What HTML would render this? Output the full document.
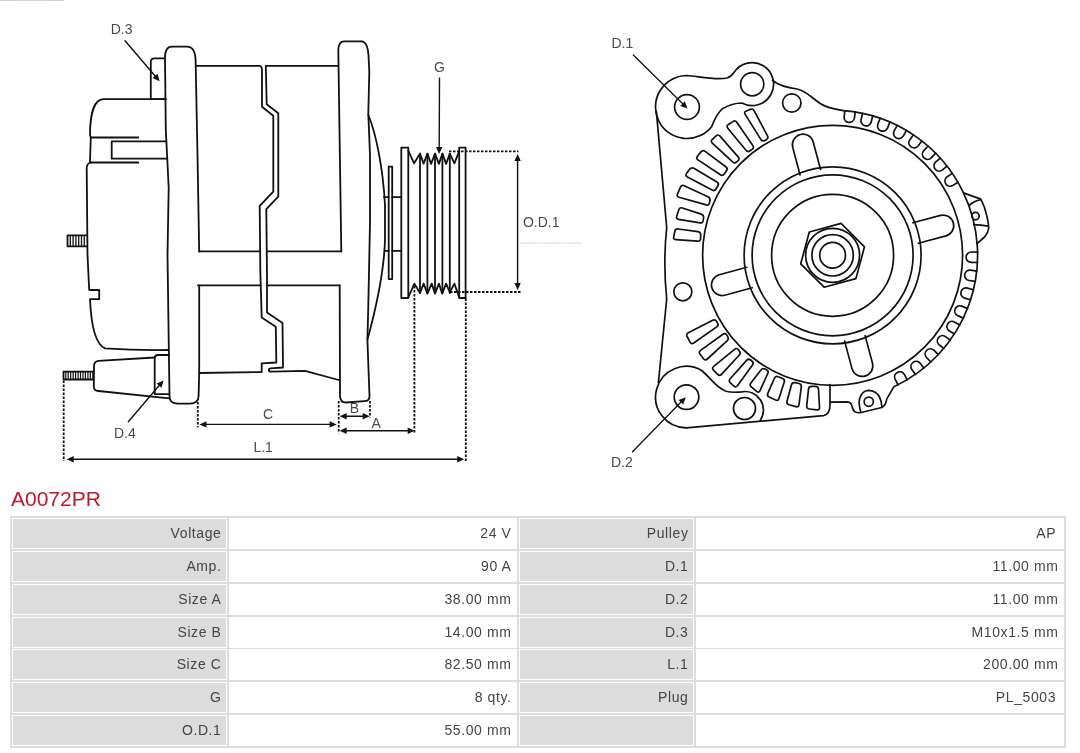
<!DOCTYPE html>
<html><head><meta charset="utf-8">
<style>
html,body{margin:0;padding:0;background:#fff;width:1080px;height:753px;overflow:hidden;position:relative;font-family:"Liberation Sans",sans-serif;}
#draw{position:absolute;left:0;top:0;will-change:transform;}
.tbl{will-change:transform;position:absolute;left:10px;top:516px;width:1056px;height:232px;background:#dddddd;}
.c{will-change:transform;position:absolute;box-sizing:border-box;border:1px solid #fff;height:31px;}
.l{background:#dcdcdc;}
.v{background:#fff;}
.t{position:absolute;right:4.5px;top:4px;font-size:14px;color:#444;line-height:20px;white-space:nowrap;letter-spacing:0.6px;}
.v .t{right:4.5px;}
.title{position:absolute;left:11px;top:487px;font-size:21px;color:#c0182a;will-change:transform;letter-spacing:0px;line-height:24px;white-space:nowrap;}
</style></head><body>
<svg id="draw" width="1080" height="480" viewBox="0 0 1080 480">
<g fill="none" stroke="#111" stroke-width="1.8" stroke-linejoin="round" stroke-linecap="round">
<line x1="125" y1="40.8" x2="157.5" y2="78.8" stroke-width="1.4"/>
<polygon points="159.6,81.2 152.6,78 157.5,73.8" fill="#111" stroke="none"/>
<path d="M199.2,285.3 L199.2,373 L198.6,396 Q198.3,403.6 190,403.6 L177.5,403.6 Q169.6,403.6 169.5,396 L169.2,375 L167.5,255 L168.7,187.5 L165.8,130 L165,58 Q164.8,46.6 172,46.6 L187,46.6 Q195,46.6 195.6,60 L197.5,155 L199.2,251.5"/>
<path d="M164.6,58.3 L154.3,58.3 Q150.8,58.3 150.8,62 L150.8,99.2 L165.6,99.2"/>
<path d="M165.6,99.2 L103.3,99.2 C95,99.5 90,112 90,135 L90.8,137.5 L90,161.7 Q90,162.5 90.8,162.5"/>
<line x1="90.8" y1="137.5" x2="138.3" y2="137.5"/>
<line x1="90.8" y1="162.5" x2="138.3" y2="162.5"/>
<path d="M166.2,141.3 L111.7,141.3 L111.7,158.7 L166.4,158.7"/>
<path d="M90.8,162.5 Q86.7,163.5 86.7,168 L87.5,255 L89.2,290 L99.2,290 L99.2,299.2 L90,299.2 C91,322 95,344 105,348.3 Q135,350.5 168.3,350"/>
<path d="M87,235.3 L67.5,235.3 L67.5,246.3 L87,246.3"/>
<line x1="70.3" y1="235.8" x2="70.3" y2="245.8" stroke-width="1.3"/>
<line x1="73.1" y1="235.8" x2="73.1" y2="245.8" stroke-width="1.3"/>
<line x1="75.9" y1="235.8" x2="75.9" y2="245.8" stroke-width="1.3"/>
<line x1="78.7" y1="235.8" x2="78.7" y2="245.8" stroke-width="1.3"/>
<line x1="81.5" y1="235.8" x2="81.5" y2="245.8" stroke-width="1.3"/>
<line x1="84.3" y1="235.8" x2="84.3" y2="245.8" stroke-width="1.3"/>
<path d="M154.7,357.5 L98.3,360.8 Q94,361.5 94,366 L93.8,386.5 Q94,390.8 98.5,391 L169.2,398.3"/>
<path d="M169.2,355 L157.8,355 Q154.7,355 154.7,358.5 L154.7,394.2 L169.2,394.2"/>
<path d="M93.8,371.7 L63.5,371.7 L63.5,379.5 L93.8,379.5"/>
<line x1="65.8" y1="372.2" x2="65.8" y2="379" stroke-width="1.2"/>
<line x1="68.2" y1="372.2" x2="68.2" y2="379" stroke-width="1.2"/>
<line x1="70.7" y1="372.2" x2="70.7" y2="379" stroke-width="1.2"/>
<line x1="73.2" y1="372.2" x2="73.2" y2="379" stroke-width="1.2"/>
<line x1="75.6" y1="372.2" x2="75.6" y2="379" stroke-width="1.2"/>
<line x1="78.1" y1="372.2" x2="78.1" y2="379" stroke-width="1.2"/>
<line x1="80.5" y1="372.2" x2="80.5" y2="379" stroke-width="1.2"/>
<line x1="83" y1="372.2" x2="83" y2="379" stroke-width="1.2"/>
<line x1="85.4" y1="372.2" x2="85.4" y2="379" stroke-width="1.2"/>
<line x1="87.9" y1="372.2" x2="87.9" y2="379" stroke-width="1.2"/>
<line x1="90.3" y1="372.2" x2="90.3" y2="379" stroke-width="1.2"/>
<line x1="92.8" y1="372.2" x2="92.8" y2="379" stroke-width="1.2"/>
<path d="M195.8,65.8 L259.5,65.8 Q262,66 262,70 L262,106.7 L273.3,115.8 L273.3,191.7 L259.7,205.8 L260.3,270 L261.7,317.5 L275.8,326.7 L276.3,362.5 L261.7,363.3 L261.7,372 L199.2,373"/>
<path d="M265.8,65.8 L266.7,104.2 L278.3,113.3 L278.3,196.7 L266.3,209.2 L267,275 L267,312.5 L282.5,323 L283,367.5 L270.5,368.3 Q268.6,368.5 268.8,370.5 Q269,371.8 271,371.7 L305,370.8 L338.7,380"/>
<line x1="266.7" y1="65.8" x2="338" y2="65.8"/>
<line x1="199.2" y1="251.4" x2="260.4" y2="251.4"/>
<line x1="267" y1="251.4" x2="341.3" y2="251.4"/>
<line x1="198" y1="285.3" x2="260.8" y2="285.3"/>
<line x1="267" y1="285.3" x2="339.7" y2="285.3"/>
<path d="M341.3,251.4 L338.3,50 Q338.6,41.3 344,41.3 L361.5,41.3 Q367.5,41.5 368.5,55 L369.3,72 L368.3,113.3 L370,155 L370,223 L368.3,306 L367.4,339.6 L369.5,396 Q369.5,401 364.5,401.2 L346,402.5 Q340.2,402.5 340,396 L339.7,285.3"/>
<path d="M368.3,115 C376,133 383,168 385,205 L385,240 C384,272 375,312 367.6,339"/>
<path d="M388.7,279.1 L388.7,166.7 L392.2,166.7 L392.2,279.1 Z"/>
<line x1="384" y1="197.2" x2="388.7" y2="197.2"/>
<line x1="392.2" y1="197.2" x2="401.3" y2="197.2"/>
<line x1="384.6" y1="250.8" x2="388.7" y2="250.8"/>
<line x1="392.2" y1="250.8" x2="401.3" y2="250.8"/>
<path d="M401.3,298 L401.3,147.6 L408.3,147.6 L408.3,298 Z"/>
<path d="M459.2,298 L459.2,147.6 L465.6,147.6 L465.6,298 Z"/>
<polyline points="408.3,150.6 414.1,163.3 420,153.6 423.6,163.6 427.4,153.6 431.1,163.9 435,153.6 438.9,163.9 442.4,153.6 446.1,163.9 449.8,153.6 454.4,163.3 459.2,151.1"/>
<polyline points="408.3,297.4 414.4,283.6 420,293 423.6,283.6 427.4,293.6 431.7,283.6 435,293.6 438.9,283.6 442.2,293.6 446.1,283.6 449.8,292.4 454.4,283.6 459.2,297.4"/>
<line x1="420" y1="153.6" x2="420" y2="293"/>
<line x1="427.4" y1="153.6" x2="427.4" y2="293"/>
<line x1="435" y1="153.6" x2="435" y2="293"/>
<line x1="442.4" y1="153.6" x2="442.4" y2="293"/>
<line x1="449.8" y1="153.6" x2="449.8" y2="293"/>
<line x1="449" y1="151.4" x2="518.4" y2="151.4" stroke-dasharray="2.5 1.5" stroke-linecap="butt" stroke-width="1.8"/>
<line x1="450" y1="292" x2="521.4" y2="292" stroke-dasharray="2.5 1.5" stroke-linecap="butt" stroke-width="1.8"/>
<line x1="63.7" y1="380.5" x2="63.7" y2="461" stroke-dasharray="2.5 1.5" stroke-linecap="butt" stroke-width="1.8"/>
<line x1="465.8" y1="298.5" x2="465.8" y2="461" stroke-dasharray="2.5 1.5" stroke-linecap="butt" stroke-width="1.8"/>
<line x1="197.8" y1="402" x2="197.8" y2="427.2" stroke-dasharray="2.5 1.5" stroke-linecap="butt" stroke-width="1.8"/>
<line x1="338.7" y1="401" x2="338.7" y2="433.3" stroke-dasharray="2.5 1.5" stroke-linecap="butt" stroke-width="1.8"/>
<line x1="370" y1="401" x2="370" y2="417.5" stroke-dasharray="2.5 1.5" stroke-linecap="butt" stroke-width="1.8"/>
<line x1="414.4" y1="286" x2="414.4" y2="433.3" stroke-dasharray="2.5 1.5" stroke-linecap="butt" stroke-width="1.8"/>
<line x1="0" y1="0.5" x2="64" y2="0.5" stroke="#d0d0d0" stroke-width="1.2" stroke-dasharray="1.2 1.2"/>
<line x1="16" y1="0.5" x2="48" y2="0.5" stroke="#d8d4d0" stroke-width="1.2"/>
<line x1="520" y1="243.1" x2="580.5" y2="243.1" stroke="#ccc" stroke-width="1" stroke-dasharray="1.5 1.5"/>
<line x1="517.6" y1="160" x2="517.6" y2="283" stroke-width="1.4"/>
<polygon points="517.6,153.9 520.8,160.9 514.4,160.9" fill="#111" stroke="none"/>
<polygon points="517.6,289.9 514.4,282.9 520.8,282.9" fill="#111" stroke="none"/>
<line x1="439.5" y1="78.3" x2="439.2" y2="147" stroke-width="1.4"/>
<polygon points="439.1,153.9 436,146.9 442.4,146.9" fill="#111" stroke="none"/>
<line x1="72" y1="459.2" x2="458" y2="459.2" stroke-width="1.4"/>
<polygon points="66.7,459.2 73.7,456 73.7,462.4" fill="#111" stroke="none"/>
<polygon points="464.2,459.2 457.2,462.4 457.2,456" fill="#111" stroke="none"/>
<line x1="205" y1="424.4" x2="331" y2="424.4" stroke-width="1.4"/>
<polygon points="199.4,424.4 206.4,421.2 206.4,427.6" fill="#111" stroke="none"/>
<polygon points="336.7,424.4 329.7,427.6 329.7,421.2" fill="#111" stroke="none"/>
<line x1="345" y1="416.3" x2="364" y2="416.3" stroke-width="1.4"/>
<polygon points="339.7,416.3 346.7,413.1 346.7,419.5" fill="#111" stroke="none"/>
<polygon points="369.7,416.3 362.7,419.5 362.7,413.1" fill="#111" stroke="none"/>
<line x1="345" y1="430.8" x2="409" y2="430.8" stroke-width="1.4"/>
<polygon points="339.7,430.8 346.7,427.6 346.7,434" fill="#111" stroke="none"/>
<polygon points="414.7,430.8 407.7,434 407.7,427.6" fill="#111" stroke="none"/>
<line x1="128.3" y1="421.7" x2="161.5" y2="382.8" stroke-width="1.4"/>
<polygon points="163.6,380.4 161.5,387.8 156.6,383.6" fill="#111" stroke="none"/>
</g>
<g fill="none" stroke="#111" stroke-width="1.7" stroke-linejoin="round" stroke-linecap="round">
<circle cx="832.6" cy="255.3" r="130"/>
<circle cx="832.6" cy="255.3" r="88.5"/>
<circle cx="832.6" cy="255.3" r="80.5"/>
<circle cx="832.6" cy="255.3" r="61"/>
<circle cx="832.6" cy="255.3" r="12.9"/>
<circle cx="832.6" cy="255.3" r="20.7"/>
<polygon points="841.1,223.4 864.5,246.8 855.9,278.6 824.1,287.2 800.7,263.8 809.3,232"/>
<circle cx="832.6" cy="255.3" r="27"/>
<path d="M820.6,169.5 L813.2,142 A10.6,10.6 0 0 0 792.7,147.4 L800.1,175"/>
<path d="M918.4,243.3 L945.9,235.9 A10.6,10.6 0 0 0 940.5,215.4 L912.9,222.8"/>
<path d="M844.6,341.1 L852,368.6 A10.6,10.6 0 0 0 872.5,363.2 L865.1,335.6"/>
<path d="M746.8,267.3 L719.3,274.7 A10.6,10.6 0 0 0 724.7,295.2 L752.3,287.8"/>
<path d="M745.2,114.4 Q743.7,112 746.3,111 L750.3,109.4 Q752.9,108.3 754.2,110.8 L767.5,135.9 Q768.8,138.4 766.3,139.7 L764.7,140.5 Q762.2,141.8 760.8,139.4 Z"/>
<path d="M727.8,128.2 Q726,126 728.4,124.5 L732.9,121.6 Q735.2,120 736.8,122.3 L752.8,145.5 Q754.4,147.8 752.1,149.4 L750.1,150.8 Q747.8,152.4 746,150.3 Z"/>
<path d="M712.3,143.1 Q710.2,141.2 712.3,139.3 L716.1,135.9 Q718.1,134 720,136.1 L738.1,156.9 Q740,159 737.9,160.9 L736.7,161.9 Q734.6,163.8 732.6,161.9 Z"/>
<path d="M698,159.9 Q695.6,158.4 697.4,156.2 L701,151.9 Q702.8,149.7 705.1,151.4 L725.8,166.7 Q728.1,168.3 726.5,170.7 L724.3,174 Q722.7,176.3 720.4,174.8 Z"/>
<path d="M687.4,176.9 Q684.9,175.5 686.6,173.3 L689.8,169.1 Q691.5,166.9 693.9,168.3 L716.9,182 Q719.3,183.4 717.9,185.8 L716,189 Q714.6,191.4 712.1,190 Z"/>
<path d="M680.5,187.2 Q681.6,184.7 684.2,185.8 L707.9,196.7 Q710.5,197.9 710,200.6 L709.5,202.9 Q709,205.6 706.3,204.9 L679,197.2 Q676.3,196.4 677.5,193.9 Z"/>
<path d="M678.8,209.8 Q679.7,207.1 682.3,208 L701.2,214.1 Q703.9,214.9 703.6,217.7 L703.2,220.5 Q702.9,223.3 700.1,222.9 L678.6,219.3 Q675.8,218.8 676.7,216.2 Z"/>
<path d="M674.9,231.3 Q675.5,228.6 678.3,229 L697.9,231.6 Q700.7,232 700.7,234.8 L700.6,238.5 Q700.6,241.3 697.8,241.1 L675.8,239.6 Q673,239.4 673.7,236.7 Z"/>
<path d="M687.1,336.5 Q685.8,334.1 688.3,332.8 L712.7,320.3 Q715.2,319 716.6,321.4 L717.5,322.9 Q719,325.2 716.7,326.9 L693.7,343 Q691.4,344.6 690.1,342.1 Z"/>
<path d="M700.1,354.3 Q698.3,352.1 700.6,350.4 L723,334.3 Q725.3,332.7 726.8,335.1 L727.7,336.6 Q729.1,338.9 727.1,340.8 L707.3,359 Q705.3,360.9 703.5,358.7 Z"/>
<path d="M713.5,370.2 Q711.6,368.2 713.7,366.4 L734.5,349.3 Q736.7,347.5 738.4,349.8 L739.3,351 Q741,353.2 739.1,355.3 L721.5,374.4 Q719.6,376.4 717.7,374.4 Z"/>
<path d="M730.4,382.8 Q728.3,380.9 730.2,378.8 L746.6,360.4 Q748.4,358.3 750.7,360 L751.9,361 Q754.1,362.7 752.5,365 L737.6,385.6 Q735.9,387.8 733.8,386 Z"/>
<path d="M751.3,386.9 Q749.2,385.1 750.9,382.9 L760.9,369.9 Q762.6,367.7 765.1,369 L766.5,369.7 Q769,371 767.8,373.5 L760,390.7 Q758.8,393.2 756.7,391.4 Z"/>
<path d="M769.2,397.1 Q766.7,395.9 767.8,393.3 L774.5,378.2 Q775.7,375.6 778.2,376.7 L782.5,378.5 Q785.1,379.5 784.2,382.2 L779,398.6 Q778.1,401.3 775.6,400.1 Z"/>
<path d="M789,404.7 Q786.3,403.9 787,401.2 L791.5,384.8 Q792.2,382.1 795,382.7 L798.9,383.5 Q801.6,384 801.3,386.8 L799,404.6 Q798.6,407.4 795.9,406.6 Z"/>
<path d="M809.2,409 Q806.4,408.7 806.7,405.9 L808.5,389.1 Q808.8,386.4 811.6,386.4 L815.5,386.4 Q818.3,386.4 818.5,389.2 L819.5,407.3 Q819.7,410.1 816.9,409.8 Z"/>
<path d="M855.2,112 L854.4,118.2 A5.2,5.2 0 0 1 844.1,117 L844.9,110.7"/>
<path d="M872.7,115.9 L871.2,122 A5.2,5.2 0 0 1 861.1,119.5 L862.6,113.3"/>
<path d="M889.9,122 L887.6,127.9 A5.2,5.2 0 0 1 877.9,124.1 L880.2,118.2"/>
<path d="M906.4,130.4 L903.4,135.9 A5.2,5.2 0 0 1 894.2,130.9 L897.2,125.4"/>
<path d="M921.8,140.9 L918.1,146 A5.2,5.2 0 0 1 909.7,139.9 L913.4,134.8"/>
<path d="M935.6,153.2 L931.3,157.8 A5.2,5.2 0 0 1 923.8,150.6 L928.1,146"/>
<path d="M947,166.1 L942.2,170.1 A5.2,5.2 0 0 1 935.5,162.2 L940.3,158.1"/>
<path d="M957.9,182.2 L952.6,185.6 A5.2,5.2 0 0 1 947.1,176.8 L952.4,173.4"/>
<path d="M977.5,262.5 L971.2,262.4 A5.2,5.2 0 0 1 971.4,252 L977.7,252.1"/>
<path d="M975.3,281.4 L969.1,280.5 A5.2,5.2 0 0 1 970.6,270.2 L976.8,271.1"/>
<path d="M970.7,299.8 L964.6,298.1 A5.2,5.2 0 0 1 967.5,288.1 L973.5,289.8"/>
<path d="M963.4,318.1 L957.6,315.6 A5.2,5.2 0 0 1 961.8,306.1 L967.6,308.6"/>
<path d="M954.5,334 L949.1,330.8 A5.2,5.2 0 0 1 954.4,321.9 L959.8,325.1"/>
<path d="M943.8,348.5 L938.9,344.6 A5.2,5.2 0 0 1 945.2,336.4 L950.2,340.3"/>
<path d="M930.9,362 L926.5,357.5 A5.2,5.2 0 0 1 933.9,350.2 L938.3,354.7"/>
<path d="M915.5,374.4 L911.7,369.3 A5.2,5.2 0 0 1 920,363.1 L923.8,368.1"/>
<path d="M898.1,384.8 L895.1,379.2 A5.2,5.2 0 0 1 904.2,374.2 L907.2,379.7"/>
<path d="M772.5,80.5 C779,85.5 789,88 797,89 C806,90.5 813,99 821,104 C827,108 835,109.3 843.4,110.7 A145,145 0 0 1 963.5,192.9 A145,145 0 0 1 893.9,386.7 L886.7,399.2 Q886,405.5 881.7,407.5 L861.3,412.5 Q853.5,414 852.2,407 Q851.5,402 847,401.8 L830,402.1 L830,405 Q829.8,414.6 823.5,415.6 L686.3,427.8"/>
<path d="M963.5,192.9 L980.8,199.1 Q985,207 986.6,215 Q988.5,222 988.7,228 Q988,233 985,236.5 L977.1,243.7"/>
<path d="M969.1,205.5 Q974,201 980.8,199.6"/>
<path d="M973.9,224.6 Q981,225 988.2,226.2"/>
<circle cx="975.5" cy="216.1" r="3.7"/>
<line x1="830" y1="384.6" x2="830" y2="402.1"/>
<path d="M860.8,412.3 Q858.5,404 859.5,399 Q862,390.5 868.5,390.3 Q876,390.5 879.5,397 Q881.5,401 882,407.3"/>
<circle cx="868.75" cy="401.7" r="4.6"/>
<path d="M686.3,427.8 A30.7,30.7 0 1 1 701.6,370.5 C710,377 716,388 726,391.2 C731,392.6 736,392.5 741.8,391.8 A18.5,18.5 0 0 1 760.3,420.4"/>
<path d="M658.4,382.7 L666.7,299 Q663,263 666.7,227.5 L656.4,111.8"/>
<path d="M711.8,126.4 A31.5,31.5 0 1 1 687,75.5 C697,76 715,80.5 727,78 Q731,77 734,72.5 A21.5,21.5 0 1 1 741.9,103 Q732,103 722,109 Q716,115 711.8,126.4"/>
<circle cx="687" cy="107" r="12.4"/>
<circle cx="752.2" cy="84.2" r="11.6"/>
<circle cx="791.8" cy="103" r="9.2"/>
<circle cx="686.5" cy="397.1" r="12.3"/>
<circle cx="744.5" cy="408.5" r="11"/>
<circle cx="682.8" cy="291.8" r="9"/>
<line x1="633.3" y1="55" x2="683" y2="104" stroke-width="1.3"/>
<polygon points="687.5,108.5 680.3,105.9 684.8,101.3" fill="#111" stroke="none"/>
<line x1="632.5" y1="451.7" x2="682" y2="401" stroke-width="1.3"/>
<polygon points="685.8,397.3 683.2,404.5 678.6,400.1" fill="#111" stroke="none"/>
</g>
<g font-family="Liberation Sans, sans-serif" font-size="14" fill="#4a4a4a" stroke="none">
<text x="110.7" y="34.2">D.3</text>
<text x="434" y="71.7">G</text>
<text x="522.9" y="226.7">O.D.1</text>
<text x="262.9" y="419.4">C</text>
<text x="349.8" y="413.3">B</text>
<text x="371.5" y="427.5">A</text>
<text x="253.4" y="451.7">L.1</text>
<text x="114" y="438.3">D.4</text>
<text x="611.5" y="47.5">D.1</text>
<text x="611" y="467.3">D.2</text>
</g>
</svg>
<div class="title">A0072PR</div>
<div class="tbl"></div>
<div class="c l" style="left:12px;top:518px;width:215px"><span class="t">Voltage</span></div>
<div class="c v" style="left:229px;top:518px;width:288px"><span class="t">24 V</span></div>
<div class="c l" style="left:519px;top:518px;width:175px"><span class="t">Pulley</span></div>
<div class="c v" style="left:696px;top:518px;width:368px"><span class="t">AP<i style="margin-left:2.4px"></i></span></div>
<div class="c l" style="left:12px;top:551px;width:215px"><span class="t">Amp.</span></div>
<div class="c v" style="left:229px;top:551px;width:288px"><span class="t">90 A</span></div>
<div class="c l" style="left:519px;top:551px;width:175px"><span class="t">D.1</span></div>
<div class="c v" style="left:696px;top:551px;width:368px"><span class="t">11.00 mm</span></div>
<div class="c l" style="left:12px;top:584px;width:215px"><span class="t">Size A</span></div>
<div class="c v" style="left:229px;top:584px;width:288px"><span class="t">38.00 mm</span></div>
<div class="c l" style="left:519px;top:584px;width:175px"><span class="t">D.2</span></div>
<div class="c v" style="left:696px;top:584px;width:368px"><span class="t">11.00 mm</span></div>
<div class="c l" style="left:12px;top:617px;width:215px"><span class="t">Size B</span></div>
<div class="c v" style="left:229px;top:617px;width:288px"><span class="t">14.00 mm</span></div>
<div class="c l" style="left:519px;top:617px;width:175px"><span class="t">D.3</span></div>
<div class="c v" style="left:696px;top:617px;width:368px"><span class="t">M10x1.5 mm</span></div>
<div class="c l" style="left:12px;top:649px;width:215px"><span class="t">Size C</span></div>
<div class="c v" style="left:229px;top:649px;width:288px"><span class="t">82.50 mm</span></div>
<div class="c l" style="left:519px;top:649px;width:175px"><span class="t">L.1</span></div>
<div class="c v" style="left:696px;top:649px;width:368px"><span class="t">200.00 mm</span></div>
<div class="c l" style="left:12px;top:682px;width:215px"><span class="t">G</span></div>
<div class="c v" style="left:229px;top:682px;width:288px"><span class="t">8 qty.</span></div>
<div class="c l" style="left:519px;top:682px;width:175px"><span class="t">Plug</span></div>
<div class="c v" style="left:696px;top:682px;width:368px"><span class="t">PL_5003<i style="margin-left:2.4px"></i></span></div>
<div class="c l" style="left:12px;top:715px;width:215px"><span class="t">O.D.1</span></div>
<div class="c v" style="left:229px;top:715px;width:288px"><span class="t">55.00 mm</span></div>
<div class="c l" style="left:519px;top:715px;width:175px"><span class="t"></span></div>
<div class="c v" style="left:696px;top:715px;width:368px"><span class="t"></span></div>
</body></html>
